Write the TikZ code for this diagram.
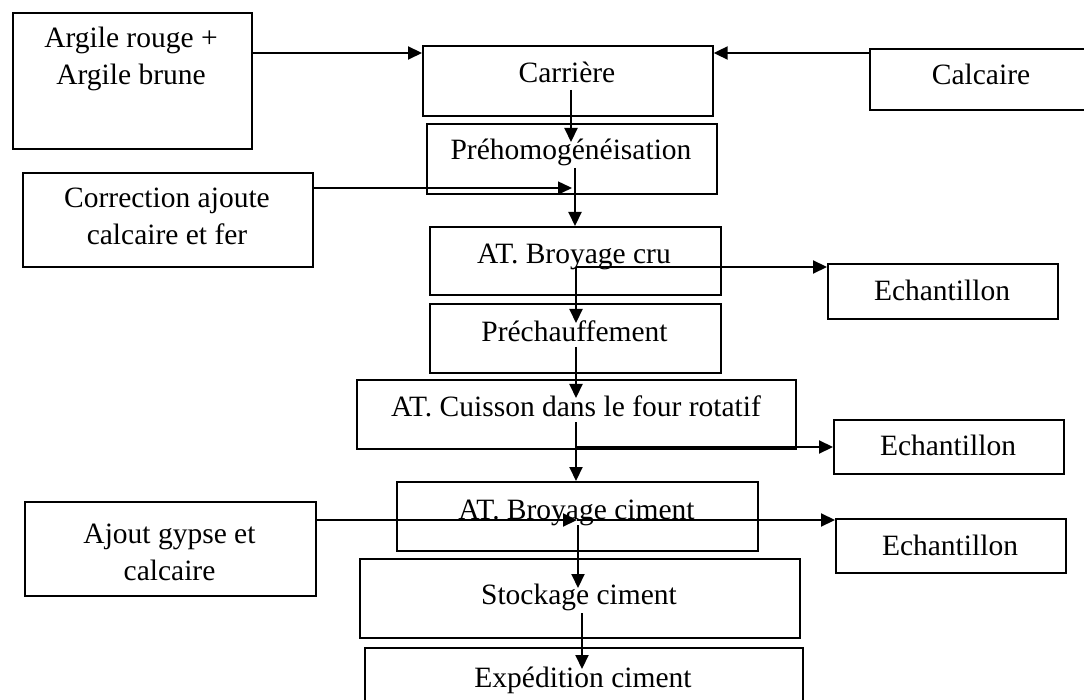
\documentclass[tikz,border=0pt]{standalone}
\usepackage{fontspec}
\setmainfont{Liberation Serif}
\usetikzlibrary{arrows.meta}
\begin{document}
\begin{tikzpicture}[x=1pt,y=-1pt,
  pbox/.style={draw, line width=1.7pt, rectangle, inner sep=0pt, anchor=north west},
  txt/.style={anchor=base, inner sep=0pt, font=\fontsize{29.5}{36.5}\selectfont},
  arr/.style={line width=2.1pt, -{Triangle[length=14pt,width=13pt]}},
  thinarr/.style={line width=1.4pt, -{Triangle[length=14pt,width=13pt]}},
]
\useasboundingbox (0,0) rectangle (1084,700);
\clip (0,0) rectangle (1084,700);

% boxes
\node[pbox, minimum width=239pt, minimum height=136pt] (arg) at (12,12) {};
\node[pbox, minimum width=290pt, minimum height=94pt] (corr) at (22,172) {};
\node[pbox, minimum width=290pt, minimum height=70pt] (carr) at (422,45) {};
\node[pbox, minimum width=290pt, minimum height=70pt] (preh) at (426,123) {};
\node[pbox, minimum width=291pt, minimum height=68pt] (brc) at (429,226) {};
\node[pbox, minimum width=291pt, minimum height=69pt] (prech) at (429,303) {};
\node[pbox, minimum width=439pt, minimum height=69pt] (cuis) at (356,379) {};
\node[pbox, minimum width=361pt, minimum height=69pt] (brci) at (396,481) {};
\node[pbox, minimum width=440pt, minimum height=79pt] (stock) at (359,558) {};
\node[pbox, minimum width=438pt, minimum height=80pt] (exped) at (364,647) {};
\node[pbox, minimum width=224pt, minimum height=61pt] (calc) at (869,48) {};
\node[pbox, minimum width=230pt, minimum height=55pt] (ech1) at (827,263) {};
\node[pbox, minimum width=230pt, minimum height=54pt] (ech2) at (833,419) {};
\node[pbox, minimum width=230pt, minimum height=54pt] (ech3) at (835,518) {};
\node[pbox, minimum width=291pt, minimum height=94pt] (ajout) at (24,501) {};

% texts
\node[txt] (argT1) at (131,48) {Argile rouge +};
\node[txt] (argT2) at (131,84.5) {Argile brune};
\node[txt] (corrT1) at (167,208) {Correction ajoute};
\node[txt] (corrT2) at (167,245) {calcaire et fer};
\node[txt] (carrT) at (567,82.5) {Carrière};
\node[txt] (prehT) at (571,160) {Préhomogénéisation};
\node[txt] (brcT) at (574,263.5) {AT. Broyage cru};
\node[txt] (prechT) at (574.5,342) {Préchauffement};
\node[txt] (cuisT) at (576,417) {AT. Cuisson dans le four rotatif};
\node[txt] (brciT) at (576.5,519) {AT. Broyage ciment};
\node[txt] (stockT) at (579,604) {Stockage ciment};
\node[txt] (expedT) at (583,687) {Expédition ciment};
\node[txt] (calcT) at (981,85) {Calcaire};
\node[txt] (ech1T) at (942,301) {Echantillon};
\node[txt] (ech2T) at (948,455) {Echantillon};
\node[txt] (ech3T) at (950,555) {Echantillon};
\node[txt] (ajoutT1) at (169.5,543) {Ajout gypse et};
\node[txt] (ajoutT2) at (169.5,580) {calcaire};

% connector points
\coordinate (p1) at (571,90);
\coordinate (p1e) at (571,142);
\coordinate (p2) at (575,168);
\coordinate (p3) at (576,267);
\coordinate (p3e) at (576,323);
\coordinate (p4) at (576,347);
\coordinate (p4e) at (576,398);
\coordinate (p5) at (576,422);
\coordinate (p6) at (576,447);
\coordinate (p7) at (577,520);
\coordinate (p8) at (578,525);
\coordinate (p8e) at (578,588);
\coordinate (p9) at (582,613);
\coordinate (p9e) at (582,669);
\coordinate (p10) at (572,188);

% connectors
\draw[arr] (arg.east |- 0,53) -- (carr.west |- 0,53);
\draw[arr] (calc.west |- 0,53) -- (carr.east |- 0,53);
\draw[arr] (p1) -- (p1e);
\draw[thinarr] (corr.east |- p10) -- (p10);
\draw[arr] (p2) -- (p2 |- brc.north);
\draw[arr] (p3) -- (ech1.west |- p3);
\draw[arr] (p3) -- (p3e);
\draw[arr] (p4) -- (p4e);
\draw[arr] (p5) -- (p5 |- brci.north);
\draw[arr] (p6) -- (ech2.west |- p6);
\draw[arr] (ajout.east |- p7) -- (p7);
\draw[arr] (p7) -- (ech3.west |- p7);
\draw[arr] (p8) -- (p8e);
\draw[arr] (p9) -- (p9e);
\end{tikzpicture}
\end{document}
